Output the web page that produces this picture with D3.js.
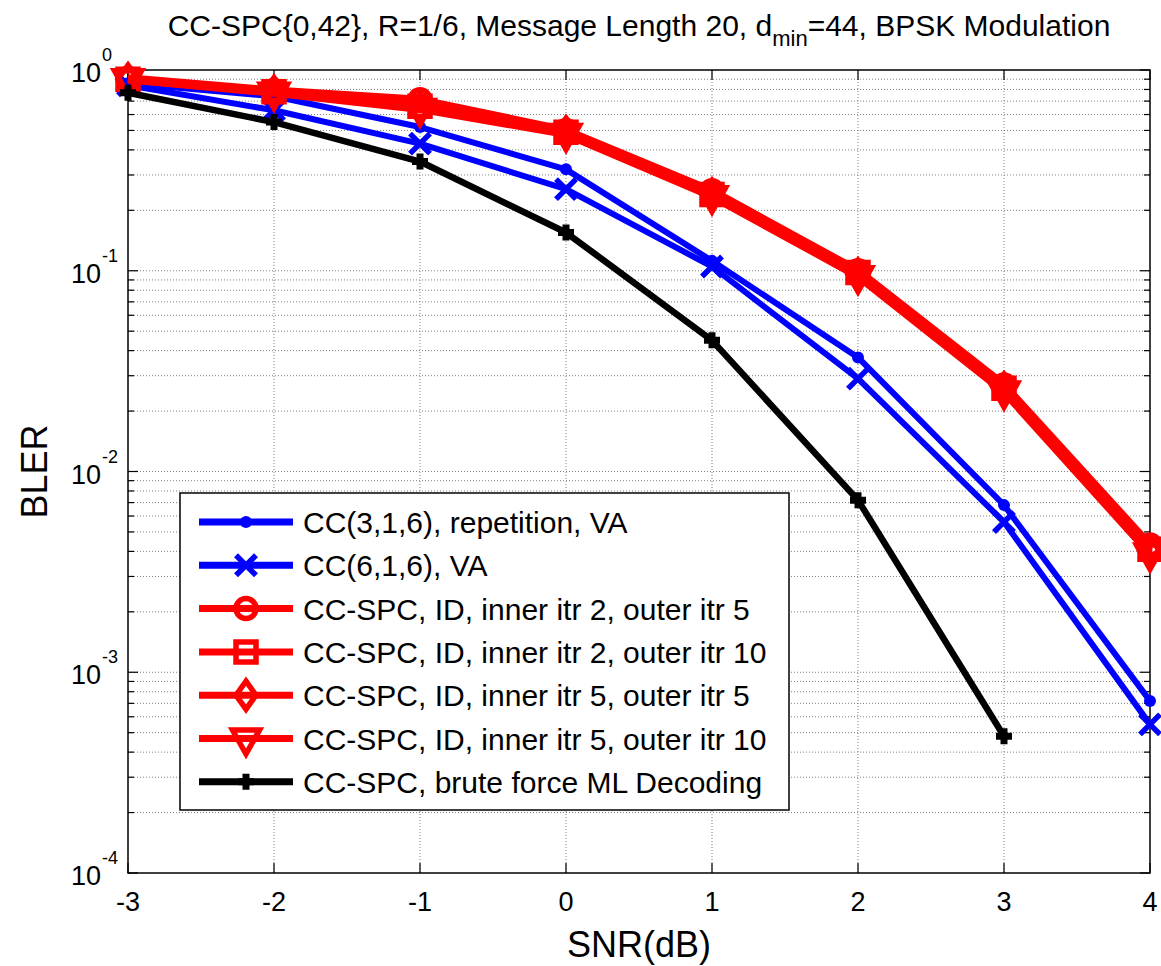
<!DOCTYPE html>
<html>
<head>
<meta charset="utf-8">
<script src="https://cdn.jsdelivr.net/npm/d3@7"></script>
<style>
  body { margin: 0; background: #fff; }
  svg { font-family: "Liberation Sans", Arial, sans-serif; }
</style>
</head>
<body>
<div id="chart"></div>
<script>
// data
const snr = [-3, -2, -1, 0, 1, 2, 3, 4];
const snrML = [-3, -2, -1, 0, 1, 2, 3];
const ccRep = [0.86, 0.74, 0.52, 0.32, 0.112, 0.037, 0.0068, 0.00072];
const ccVA = [0.84, 0.63, 0.43, 0.255, 0.105, 0.029, 0.0056, 0.00055];
const idI2O5 = [0.91, 0.79, 0.71, 0.50, 0.25, 0.100, 0.027, 0.0043];
const idI2O10 = [0.90, 0.78, 0.66, 0.49, 0.24, 0.098, 0.026, 0.0041];
const idI5O5 = [0.90, 0.78, 0.65, 0.49, 0.24, 0.096, 0.026, 0.0040];
const idI5O10 = [0.90, 0.77, 0.64, 0.48, 0.235, 0.094, 0.025, 0.0039];
const mlBrute = [0.77, 0.55, 0.35, 0.155, 0.045, 0.0072, 0.00048];
const xTicks = [-3, -2, -1, 0, 1, 2, 3, 4];
const yExps = [0, -1, -2, -3, -4];

const series = [
  { name: "CC(3,1,6), repetition, VA", x: snr, y: ccRep, color: "#0000ff", lw: 6, marker: "dot" },
  { name: "CC(6,1,6), VA", x: snr, y: ccVA, color: "#0000ff", lw: 6, marker: "x" },
  { name: "CC-SPC, ID, inner itr 2, outer itr 5", x: snr, y: idI2O5, color: "#ff0000", lw: 8, marker: "circle" },
  { name: "CC-SPC, ID, inner itr 2, outer itr 10", x: snr, y: idI2O10, color: "#ff0000", lw: 8, marker: "square" },
  { name: "CC-SPC, ID, inner itr 5, outer itr 5", x: snr, y: idI5O5, color: "#ff0000", lw: 8, marker: "diamond" },
  { name: "CC-SPC, ID, inner itr 5, outer itr 10", x: snr, y: idI5O10, color: "#ff0000", lw: 8, marker: "triangle" },
  { name: "CC-SPC, brute force ML Decoding", x: snrML, y: mlBrute, color: "#000000", lw: 6.5, marker: "plus" }
];

const W = 1161, H = 966;
const plot = { left: 128, right: 1150, top: 70, bottom: 873 };

const svg = d3.select("#chart").append("svg")
  .attr("width", W)
  .attr("height", H);

const x = d3.scaleLinear().domain([-3, 4]).range([plot.left, plot.right]);
const y = d3.scaleLog().domain([1e-4, 1]).range([plot.bottom, plot.top]);

// minor y values for grid / ticks
const yMinor = [];
for (let e = -4; e < 0; e++) {
  for (let m = 2; m <= 9; m++) yMinor.push(m * Math.pow(10, e));
}

// grid
const grid = svg.append("g").attr("stroke", "#808080").attr("stroke-width", 1).attr("stroke-dasharray", "1,2");
grid.selectAll(".gx").data(xTicks.slice(1, -1)).enter().append("line")
  .attr("x1", d => x(d)).attr("x2", d => x(d))
  .attr("y1", plot.top).attr("y2", plot.bottom);
grid.selectAll(".gy").data(yExps.slice(1, -1).map(e => Math.pow(10, e)).concat(yMinor)).enter().append("line")
  .attr("x1", plot.left).attr("x2", plot.right)
  .attr("y1", d => y(d)).attr("y2", d => y(d));

// ticks (inward, all four sides)
const tickG = svg.append("g").attr("stroke", "#000").attr("stroke-width", 1.2);
xTicks.forEach(t => {
  tickG.append("line").attr("x1", x(t)).attr("x2", x(t)).attr("y1", plot.bottom).attr("y2", plot.bottom - 10);
  tickG.append("line").attr("x1", x(t)).attr("x2", x(t)).attr("y1", plot.top).attr("y2", plot.top + 10);
});
yExps.forEach(e => {
  const v = Math.pow(10, e);
  tickG.append("line").attr("x1", plot.left).attr("x2", plot.left + 10).attr("y1", y(v)).attr("y2", y(v));
  tickG.append("line").attr("x1", plot.right).attr("x2", plot.right - 10).attr("y1", y(v)).attr("y2", y(v));
});
yMinor.forEach(v => {
  tickG.append("line").attr("x1", plot.left).attr("x2", plot.left + 6).attr("y1", y(v)).attr("y2", y(v));
  tickG.append("line").attr("x1", plot.right).attr("x2", plot.right - 6).attr("y1", y(v)).attr("y2", y(v));
});

// axes box
svg.append("rect")
  .attr("x", plot.left).attr("y", plot.top)
  .attr("width", plot.right - plot.left).attr("height", plot.bottom - plot.top)
  .attr("fill", "none").attr("stroke", "#000").attr("stroke-width", 1.5);

// tick labels
svg.append("g").selectAll("text").data(xTicks).enter().append("text")
  .attr("x", d => x(d)).attr("y", plot.bottom + 38)
  .attr("text-anchor", "middle").attr("font-size", 27)
  .text(d => d);

const yLab = svg.append("g");
yExps.forEach(e => {
  const ty = y(Math.pow(10, e));
  yLab.append("text")
    .attr("x", 101).attr("y", ty + 12)
    .attr("text-anchor", "end").attr("font-size", 27)
    .text("10");
  yLab.append("text")
    .attr("x", 102).attr("y", ty - 9)
    .attr("font-size", 18)
    .text(e);
});

// lines and markers
const line = d3.line().x(d => x(d[0])).y(d => y(d[1]));

function markerPath(type, s) {
  switch (type) {
    case "x": return `M${-s},${-s}L${s},${s}M${-s},${s}L${s},${-s}`;
    case "plus": return `M${-s},0L${s},0M0,${-s}L0,${s}`;
    case "circle": return d3.symbol(d3.symbolCircle, Math.PI * s * s)();
    case "square": return `M${-s},${-s}H${s}V${s}H${-s}Z`;
    case "diamond": return `M0,${-s * 1.4}L${s},0L0,${s * 1.4}L${-s},0Z`;
    case "triangle": return `M${-s * 1.35},${-s * 0.85}L${s * 1.35},${-s * 0.85}L0,${s * 1.55}Z`;
  }
  return "";
}

function drawMarker(g, type, color, cx, cy) {
  if (type === "dot") {
    g.append("circle").attr("cx", cx).attr("cy", cy).attr("r", 6).attr("fill", color);
    return;
  }
  const sizes = { x: 10, plus: 8, circle: 10, square: 10, diamond: 10, triangle: 10 };
  g.append("path")
    .attr("transform", `translate(${cx},${cy})`)
    .attr("d", markerPath(type, sizes[type]))
    .attr("fill", "none")
    .attr("stroke", color)
    .attr("stroke-width", type === "plus" ? 7 : 5.5);
}

series.forEach(s => {
  const pts = s.x.map((v, i) => [v, s.y[i]]);
  const g = svg.append("g");
  g.append("path").datum(pts)
    .attr("d", line)
    .attr("fill", "none")
    .attr("stroke", s.color)
    .attr("stroke-width", s.lw)
    .attr("stroke-linejoin", "round");
  pts.forEach(p => drawMarker(g, s.marker, s.color, x(p[0]), y(p[1])));
});

// legend
const leg = { x: 180, y: 493, w: 609, h: 317, row0: 522, step: 43.3 };
const lg = svg.append("g");
lg.append("rect")
  .attr("x", leg.x).attr("y", leg.y).attr("width", leg.w).attr("height", leg.h)
  .attr("fill", "#fff").attr("stroke", "#000").attr("stroke-width", 1.5);
series.forEach((s, i) => {
  const cy = leg.row0 + i * leg.step;
  lg.append("line")
    .attr("x1", 199).attr("x2", 293).attr("y1", cy).attr("y2", cy)
    .attr("stroke", s.color).attr("stroke-width", 7);
  drawMarker(lg, s.marker, s.color, 246, cy);
  lg.append("text")
    .attr("x", 303).attr("y", cy + 11)
    .attr("font-size", 30)
    .text(s.name);
});

// title and axis labels
const title = svg.append("text")
  .attr("x", (plot.left + plot.right) / 2).attr("y", 36)
  .attr("text-anchor", "middle").attr("font-size", 30);
title.append("tspan").text("CC-SPC{0,42}, R=1/6, Message Length 20, d");
title.append("tspan").attr("dy", 10).attr("font-size", 22).text("min");
title.append("tspan").attr("dy", -10).text("=44, BPSK Modulation");

svg.append("text")
  .attr("x", (plot.left + plot.right) / 2).attr("y", 957)
  .attr("text-anchor", "middle").attr("font-size", 36)
  .text("SNR(dB)");

svg.append("text")
  .attr("transform", `translate(47,${(plot.top + plot.bottom) / 2}) rotate(-90)`)
  .attr("text-anchor", "middle").attr("font-size", 36)
  .text("BLER");
</script>
</body>
</html>
